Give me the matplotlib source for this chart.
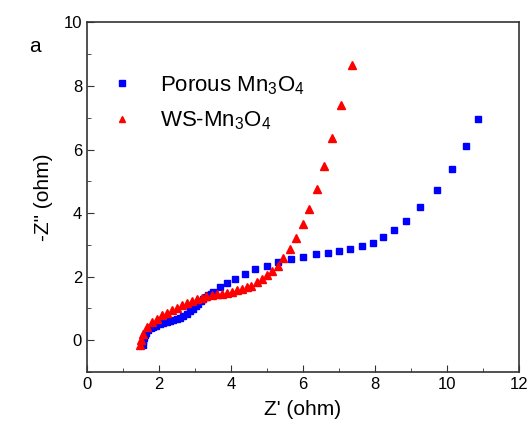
import matplotlib
matplotlib.use("Agg")
import matplotlib.pyplot as plt
from matplotlib.ticker import MultipleLocator

plt.rcParams["font.family"] = ["Liberation Sans", "DejaVu Sans"]
plt.rcParams["mathtext.fontset"] = "custom"
plt.rcParams["mathtext.rm"] = "Liberation Sans"
plt.rcParams["mathtext.it"] = "Liberation Sans:italic"

# Porous Mn3O4 (blue squares)
porous_x = [1.55, 1.56, 1.58, 1.61, 1.65, 1.70, 1.77, 1.84, 1.93, 2.03, 2.12, 2.21,
            2.30, 2.40, 2.49, 2.58, 2.68, 2.77, 2.86, 2.95, 3.02, 3.09, 3.16, 3.23,
            3.30, 3.37, 3.44, 3.51, 3.69, 3.88, 4.12, 4.38, 4.66, 5.00, 5.32, 5.66,
            6.01, 6.35, 6.69, 7.01, 7.32, 7.63, 7.94, 8.23, 8.54, 8.85, 9.25, 9.71,
            10.14, 10.53, 10.87]
porous_y = [-0.16, -0.02, 0.08, 0.16, 0.24, 0.31, 0.37, 0.42, 0.46, 0.50, 0.54, 0.57,
            0.60, 0.63, 0.67, 0.71, 0.77, 0.84, 0.91, 0.99, 1.07, 1.15, 1.22, 1.29,
            1.35, 1.41, 1.46, 1.51, 1.67, 1.81, 1.94, 2.08, 2.24, 2.34, 2.47, 2.55,
            2.62, 2.71, 2.75, 2.80, 2.86, 2.95, 3.07, 3.24, 3.47, 3.76, 4.19, 4.73,
            5.38, 6.12, 6.97]

# WS-Mn3O4 (red triangles)
ws_x = [1.47, 1.49, 1.56, 1.66, 1.80, 1.94, 2.08, 2.21, 2.35, 2.49, 2.63, 2.77,
        2.91, 3.05, 3.19, 3.32, 3.46, 3.60, 3.74, 3.88, 4.02, 4.16, 4.30, 4.44,
        4.57, 4.71, 4.85, 4.99, 5.13, 5.30, 5.45, 5.64, 5.81, 5.99, 6.17, 6.38,
        6.59, 6.82, 7.07, 7.35]
ws_y = [-0.16, 0.00, 0.21, 0.42, 0.57, 0.68, 0.78, 0.86, 0.94, 1.02, 1.10, 1.17,
        1.23, 1.29, 1.34, 1.38, 1.41, 1.44, 1.46, 1.48, 1.51, 1.57, 1.62, 1.67,
        1.72, 1.83, 1.93, 2.06, 2.19, 2.35, 2.59, 2.87, 3.22, 3.66, 4.13, 4.75,
        5.48, 6.36, 7.39, 8.67]

fig = plt.figure(figsize=(5.32, 4.41), dpi=100)
ax = fig.add_axes([0.1635, 0.1565, 0.8120, 0.7925])

ax.plot(porous_x, porous_y, "s", color="#0000ff", ms=5, mec="#0000ff",
        label=r"Porous Mn$_3$O$_4$")
ax.plot(ws_x, ws_y, "^", color="#ff0000", ms=5.5, mec="#ff0000",
        label=r"WS-Mn$_3$O$_4$")

ax.set_xlim(0, 12)
ax.set_ylim(-1, 10)
ax.xaxis.set_major_locator(MultipleLocator(2))
ax.xaxis.set_minor_locator(MultipleLocator(1))
ax.yaxis.set_major_locator(MultipleLocator(2))
ax.yaxis.set_minor_locator(MultipleLocator(1))
ax.tick_params(which="both", direction="in", labelsize=12, color="#333333")
ax.tick_params(which="major", length=5)
ax.tick_params(which="minor", length=3)
for s in ax.spines.values():
    s.set_linewidth(1.2)
    s.set_color("#333333")

ax.set_xlabel("Z' (ohm)", fontsize=15, labelpad=6)
ax.set_ylabel('-Z" (ohm)', fontsize=15, labelpad=8)

ax.legend(loc="upper left", bbox_to_anchor=(0.008, 0.91), frameon=False,
          fontsize=16, handlelength=1.0, handletextpad=1.25, labelspacing=0.6,
          markerscale=0.8)

fig.text(0.055, 0.882, "a", fontsize=15)

plt.savefig("out.png", dpi=100)
